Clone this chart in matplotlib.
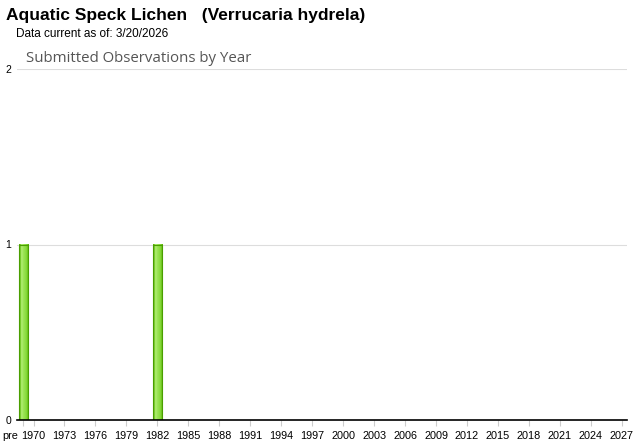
import numpy as np
import matplotlib.pyplot as plt
from matplotlib.colors import LinearSegmentedColormap
from matplotlib.patches import Rectangle
from matplotlib.transforms import ScaledTranslation

# Categories and counts
years = ["pre"] + [str(y) for y in range(1970, 2028)]
counts = [1,
          0, 0, 0, 0, 0, 0, 0, 0, 0, 0,   # 1970-1979
          0, 0, 1, 0, 0, 0, 0, 0, 0, 0,   # 1980-1989
          0, 0, 0, 0, 0, 0, 0, 0, 0, 0,   # 1990-1999
          0, 0, 0, 0, 0, 0, 0, 0, 0, 0,   # 2000-2009
          0, 0, 0, 0, 0, 0, 0, 0, 0, 0,   # 2010-2019
          0, 0, 0, 0, 0, 0, 0, 0]         # 2020-2027
yticks = [0, 1, 2]

title = "Aquatic Speck Lichen   (Verrucaria hydrela)"
subtitle = "Data current as of: 3/20/2026"
chart_title = "Submitted Observations by Year"

fig = plt.figure(figsize=(6.4, 4.42), dpi=100)
ax = fig.add_axes([17 / 640, 22 / 442, 610 / 640, 351 / 442])

x = np.arange(len(years))
bar_w = 0.9
green_cmap = LinearSegmentedColormap.from_list(
    "bar", [(0.0, "#4fa600"), (0.12, "#6cc41a"), (0.25, "#b6f07a"),
            (0.4, "#a0e65a"), (0.75, "#86d93a"), (0.9, "#6cc41a"), (1.0, "#4fa600")])
grad = np.linspace(0, 1, 64).reshape(1, -1)

for xi, c in zip(x, counts):
    if c <= 0:
        continue
    ax.imshow(grad, cmap=green_cmap, aspect="auto", interpolation="bilinear",
              extent=[xi - bar_w / 2, xi + bar_w / 2, 0, c], zorder=3)
    ax.add_patch(Rectangle((xi - bar_w / 2, 0), bar_w, c, fill=False,
                           edgecolor="#4a9e00", lw=0.8, zorder=4))

ax.set_xlim(-0.6, 58.5)
ax.set_ylim(0, 2)
ax.set_yticks(yticks)
ax.set_yticklabels([str(v) for v in yticks], fontsize=7.5, family="Liberation Sans")
ax.grid(axis="y", color="#dddddd", lw=0.8, zorder=0)
ax.tick_params(axis="y", length=0, pad=4)

tick_idx = [0] + list(range(1, len(years), 3))
ax.set_xticks(tick_idx)
ax.set_xticklabels([years[i] for i in tick_idx], fontsize=7.8, family="Liberation Sans")
ax.tick_params(axis="x", length=4, color="#cccccc", pad=4)
pre_label = ax.get_xticklabels()[0]
pre_label.set_ha("right")
pre_label.set_transform(pre_label.get_transform() + ScaledTranslation(-5 / 100, 0, fig.dpi_scale_trans))

for side in ["top", "right", "left"]:
    ax.spines[side].set_visible(False)
ax.spines["bottom"].set_color("black")
ax.spines["bottom"].set_linewidth(1.2)
ax.spines["bottom"].set_zorder(5)

fig.text(6 / 640, 1 - 20 / 442, title, fontsize=12.5, fontweight="bold",
         family="Liberation Sans", va="baseline")
fig.text(16 / 640, 1 - 37 / 442, subtitle, fontsize=8.5,
         family="Liberation Sans", va="baseline")
fig.text(26 / 640, 1 - 62 / 442, chart_title, fontsize=10.8, color="#555555",
         family="Open Sans", va="baseline")

fig.savefig("out.png", dpi=100)
